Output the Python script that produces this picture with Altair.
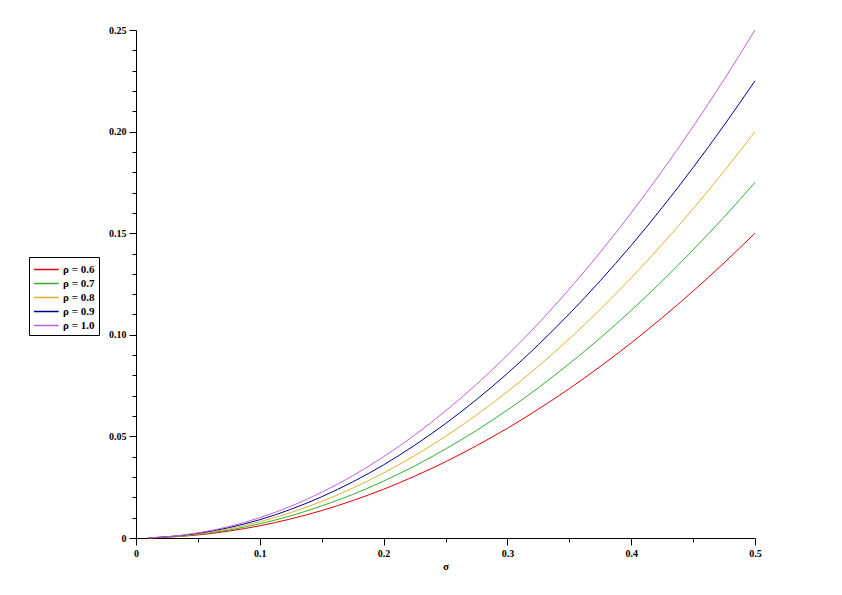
import altair as alt
import pandas as pd

sigma = [0.01, 0.025, 0.05, 0.075, 0.1, 0.125, 0.15, 0.175, 0.2, 0.225, 0.25,
         0.275, 0.3, 0.325, 0.35, 0.375, 0.4, 0.425, 0.45, 0.475, 0.5]

rho_labels = ["ρ = 0.6", "ρ = 0.7", "ρ = 0.8", "ρ = 0.9", "ρ = 1.0"]
colors = ["#e00000", "#30b030", "#e0b030", "#000090", "#c060e0"]

y_06 = [0.0001, 0.0004, 0.0015, 0.0034, 0.0060, 0.0094, 0.0135, 0.0184, 0.0240, 0.0304, 0.0375,
        0.0454, 0.0540, 0.0634, 0.0735, 0.0844, 0.0960, 0.1084, 0.1215, 0.1354, 0.1500]
y_07 = [0.0001, 0.0004, 0.0018, 0.0039, 0.0070, 0.0109, 0.0158, 0.0214, 0.0280, 0.0354, 0.0438,
        0.0529, 0.0630, 0.0739, 0.0858, 0.0984, 0.1120, 0.1264, 0.1418, 0.1579, 0.1750]
y_08 = [0.0001, 0.0005, 0.0020, 0.0045, 0.0080, 0.0125, 0.0180, 0.0245, 0.0320, 0.0405, 0.0500,
        0.0605, 0.0720, 0.0845, 0.0980, 0.1125, 0.1280, 0.1445, 0.1620, 0.1805, 0.2000]
y_09 = [0.0001, 0.0006, 0.0023, 0.0051, 0.0090, 0.0141, 0.0203, 0.0276, 0.0360, 0.0456, 0.0563,
        0.0681, 0.0810, 0.0951, 0.1103, 0.1266, 0.1440, 0.1626, 0.1823, 0.2031, 0.2250]
y_10 = [0.0001, 0.0006, 0.0025, 0.0056, 0.0100, 0.0156, 0.0225, 0.0306, 0.0400, 0.0506, 0.0625,
        0.0756, 0.0900, 0.1056, 0.1225, 0.1406, 0.1600, 0.1806, 0.2025, 0.2256, 0.2500]

x_major = [0, 0.1, 0.2, 0.3, 0.4, 0.5]
x_minor = [0.05, 0.15, 0.25, 0.35, 0.45]
y_major = [0, 0.05, 0.10, 0.15, 0.20, 0.25]
y_minor = [0.01, 0.02, 0.03, 0.04, 0.06, 0.07, 0.08, 0.09, 0.11, 0.12, 0.13, 0.14,
           0.16, 0.17, 0.18, 0.19, 0.21, 0.22, 0.23, 0.24]

rows = []
for lab, ys in zip(rho_labels, [y_06, y_07, y_08, y_09, y_10]):
    for s, v in zip(sigma, ys):
        rows.append({"sigma": s, "y": v, "rho": lab})
df = pd.DataFrame(rows)

FONT = "Liberation Serif"
xscale = alt.Scale(domain=[0, 0.5], nice=False, zero=False)
yscale = alt.Scale(domain=[0, 0.25], nice=False)

lines = alt.Chart(df).mark_line(strokeWidth=1, interpolate="monotone").encode(
    x=alt.X("sigma:Q", scale=xscale,
            axis=alt.Axis(values=x_major, title="σ", grid=False, tickSize=7,
                          labelExpr="datum.value == 0 ? '0' : format(datum.value, '.1f')",
                          labelFont=FONT, labelFontSize=10, labelFontWeight="bold",
                          labelPadding=3, titleFont=FONT, titleFontSize=11,
                          titleFontWeight="bold", titlePadding=2,
                          domainColor="black", tickColor="black", labelColor="black",
                          labelFlush=False)),
    y=alt.Y("y:Q", scale=yscale,
            axis=alt.Axis(values=y_major, title=None, grid=False, tickSize=7,
                          labelExpr="datum.value == 0 ? '0' : format(datum.value, '.2f')",
                          labelFont=FONT, labelFontSize=10, labelFontWeight="bold",
                          labelPadding=3, domainColor="black", tickColor="black",
                          labelColor="black", labelFlush=False)),
    color=alt.Color("rho:N", scale=alt.Scale(domain=rho_labels, range=colors),
                    legend=alt.Legend(title=None, orient="none", legendX=-107, legendY=227,
                                      symbolType="M-1,0H2.3", symbolSize=225,
                                      symbolStrokeWidth=1.5, symbolOpacity=1,
                                      labelFont=FONT, labelFontSize=11, labelFontWeight="bold",
                                      labelColor="black", strokeColor="black", fillColor="white",
                                      padding=4, rowPadding=0, labelOffset=13)),
)

minor = alt.Chart(df).mark_line(opacity=0).encode(
    x=alt.X("sigma:Q", scale=xscale,
            axis=alt.Axis(values=x_minor, labels=False, domain=False, grid=False,
                          tickSize=4, title=None, orient="bottom", tickColor="black")),
    y=alt.Y("y:Q", scale=yscale,
            axis=alt.Axis(values=y_minor, labels=False, domain=False, grid=False,
                          tickSize=4, title=None, orient="left", tickColor="black")),
)

chart = alt.layer(lines, minor).resolve_axis(x="independent", y="independent").properties(
    width=619, height=508, autosize="none",
    padding={"left": 128, "top": 22, "right": 60, "bottom": 40},
).configure_view(stroke=None)

chart.save("out.html", embed_options={"renderer": "svg", "actions": False})
